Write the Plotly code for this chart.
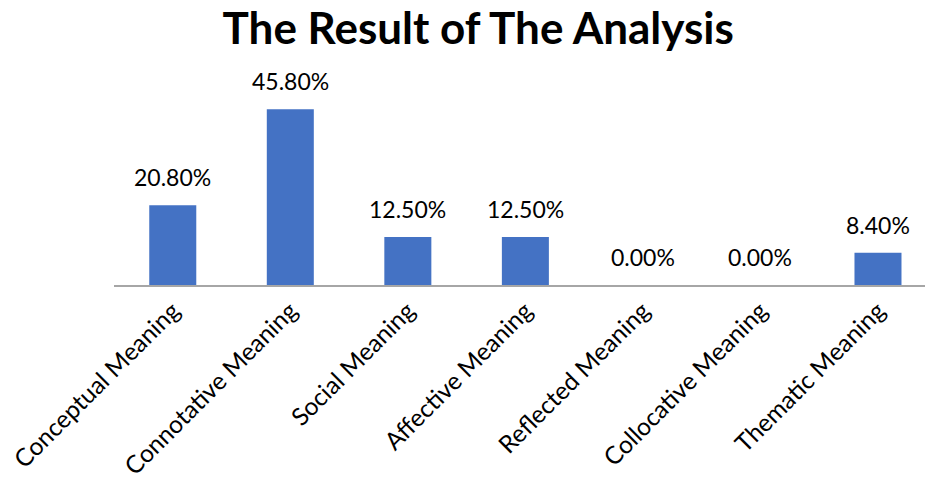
import plotly.graph_objects as go

categories = ["Conceptual Meaning", "Connotative Meaning", "Social Meaning",
              "Affective Meaning", "Reflected Meaning", "Collocative Meaning",
              "Thematic Meaning"]
values = [20.8, 45.8, 12.5, 12.5, 0.0, 0.0, 8.4]
labels = ["20.80%", "45.80%", "12.50%", "12.50%", "0.00%", "0.00%", "8.40%"]

FONT = "Lato"

fig = go.Figure(go.Bar(x=categories, y=values, marker_color="#4472C4",
                       marker_line_width=0, width=0.4))

for c, v, t in zip(categories, values, labels):
    fig.add_annotation(x=c, y=v, text=t, showarrow=False, yanchor="bottom",
                       yshift=12, font=dict(family=FONT, size=23, color="#000000"))

fig.update_layout(
    width=925, height=482,
    margin=dict(l=114, r=0, t=93, b=197, autoexpand=False),
    paper_bgcolor="white", plot_bgcolor="white",
    title=dict(text="<b>The Result of The Analysis</b>", x=0.517, xanchor="center",
               y=0.94, yanchor="middle",
               font=dict(family=FONT, size=44, color="#000000")),
    showlegend=False,
    xaxis=dict(range=[-0.5, 6.40], tickangle=-45, showline=True, linecolor="#A6A6A6",
               linewidth=1.5, ticks="", tickfont=dict(family=FONT, size=24.5, color="#000000"),
               showgrid=False, fixedrange=True, automargin=False),
    yaxis=dict(range=[0, 50], visible=False, showgrid=False, zeroline=False),
)

fig.write_html("out.html")
